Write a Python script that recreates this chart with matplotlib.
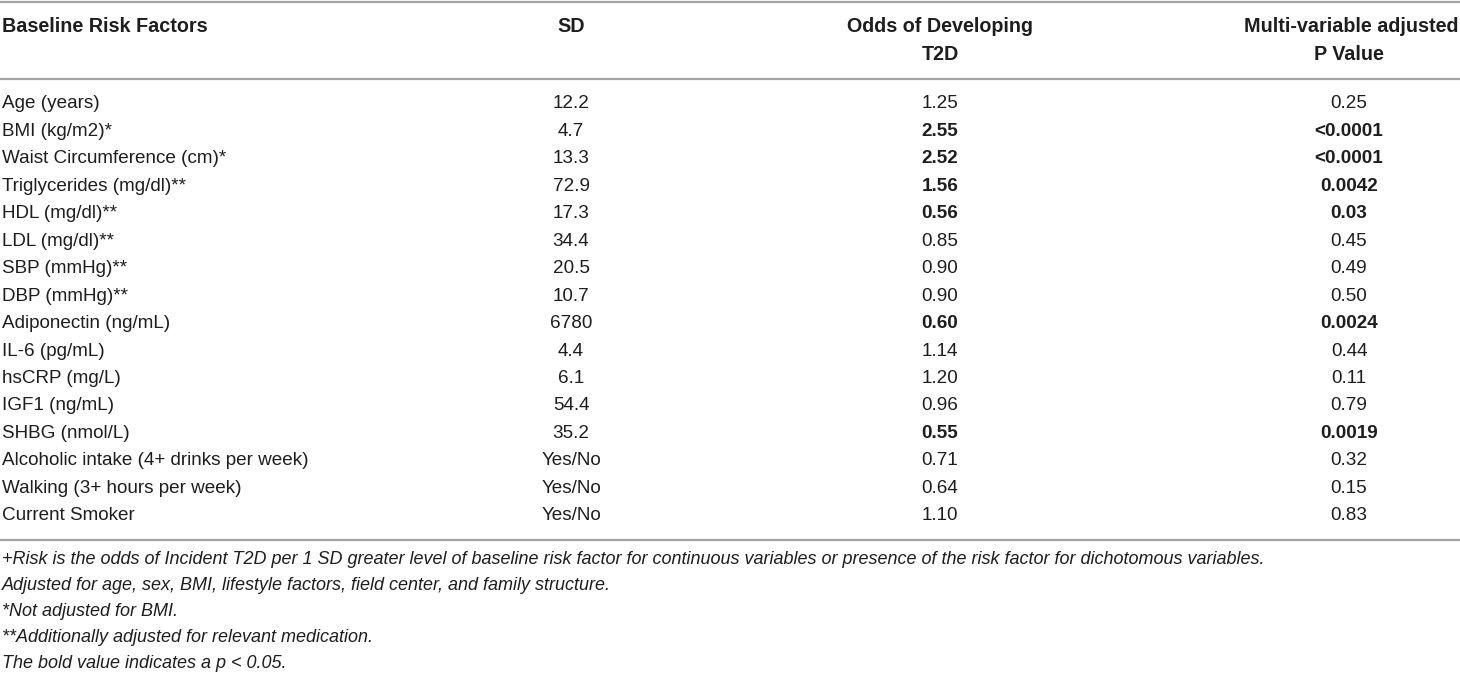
import matplotlib.pyplot as plt

plt.rcParams['font.family'] = ['Liberation Sans', 'DejaVu Sans']

# Table data
factors = ["Age (years)", "BMI (kg/m2)*", "Waist Circumference (cm)*",
           "Triglycerides (mg/dl)**", "HDL (mg/dl)**", "LDL (mg/dl)**",
           "SBP (mmHg)**", "DBP (mmHg)**", "Adiponectin (ng/mL)",
           "IL-6 (pg/mL)", "hsCRP (mg/L)", "IGF1 (ng/mL)", "SHBG (nmol/L)",
           "Alcoholic intake (4+ drinks per week)",
           "Walking (3+ hours per week)", "Current Smoker"]
sd = ["12.2", "4.7", "13.3", "72.9", "17.3", "34.4", "20.5", "10.7", "6780",
      "4.4", "6.1", "54.4", "35.2", "Yes/No", "Yes/No", "Yes/No"]
odds = ["1.25", "2.55", "2.52", "1.56", "0.56", "0.85", "0.90", "0.90", "0.60",
        "1.14", "1.20", "0.96", "0.55", "0.71", "0.64", "1.10"]
pvals = ["0.25", "<0.0001", "<0.0001", "0.0042", "0.03", "0.45", "0.49",
         "0.50", "0.0024", "0.44", "0.11", "0.79", "0.0019", "0.32", "0.15",
         "0.83"]
significant = [False, True, True, True, True, False, False, False, True,
               False, False, False, True, False, False, False]
footnotes = [
    "+Risk is the odds of Incident T2D per 1 SD greater level of baseline risk "
    "factor for continuous variables or presence of the risk factor for dichotomous variables.",
    "Adjusted for age, sex, BMI, lifestyle factors, field center, and family structure.",
    "*Not adjusted for BMI.",
    "**Additionally adjusted for relevant medication.",
    "The bold value indicates a p < 0.05.",
]

W, H = 1460, 675
fig = plt.figure(figsize=(W / 100, H / 100), dpi=100)
ax = fig.add_axes([0, 0, 1, 1])
ax.set_xlim(0, W)
ax.set_ylim(H, 0)
ax.axis("off")

txt = "#1e1e1e"
line_c = "#a3a3a3"
fs_head = 14.2
fs_body = 13.6
fs_note = 13.0

# horizontal rules
for y in [1.5, 79, 540]:
    ax.plot([0, W], [y, y], color=line_c, lw=1.6, solid_capstyle="butt")

x_name, x_sd, x_odds, x_p = 2, 571, 940, 1349

# header
ax.text(x_name, 27, "Baseline Risk Factors", fontsize=fs_head, fontweight="bold",
        color=txt, va="center", ha="left")
ax.text(x_sd, 27, "SD", fontsize=fs_head, fontweight="bold", color=txt,
        va="center", ha="center")
ax.text(x_odds, 27, "Odds of Developing", fontsize=fs_head, fontweight="bold",
        color=txt, va="center", ha="center")
ax.text(x_odds, 55, "T2D", fontsize=fs_head, fontweight="bold", color=txt,
        va="center", ha="center")
ax.text(1458, 27, "Multi-variable adjusted", fontsize=fs_head, fontweight="bold",
        color=txt, va="center", ha="right")
ax.text(x_p, 55, "P Value", fontsize=fs_head, fontweight="bold", color=txt,
        va="center", ha="center")

# body rows
y0, dy = 104, 27.45
for i in range(len(factors)):
    y = y0 + i * dy
    w = "bold" if significant[i] else "normal"
    ax.text(x_name, y, factors[i], fontsize=fs_body, color=txt, va="center", ha="left")
    ax.text(x_sd, y, sd[i], fontsize=fs_body, color=txt, va="center", ha="center")
    ax.text(x_odds, y, odds[i], fontsize=fs_body, color=txt, va="center",
            ha="center", fontweight=w)
    ax.text(x_p, y, pvals[i], fontsize=fs_body, color=txt, va="center",
            ha="center", fontweight=w)

# footnotes
fy = [560, 586, 611, 637, 663]
for y, s in zip(fy, footnotes):
    ax.text(x_name, y, s, fontsize=fs_note, color=txt, va="center", ha="left",
            style="italic")

fig.savefig("out.png", dpi=100, facecolor="white")
